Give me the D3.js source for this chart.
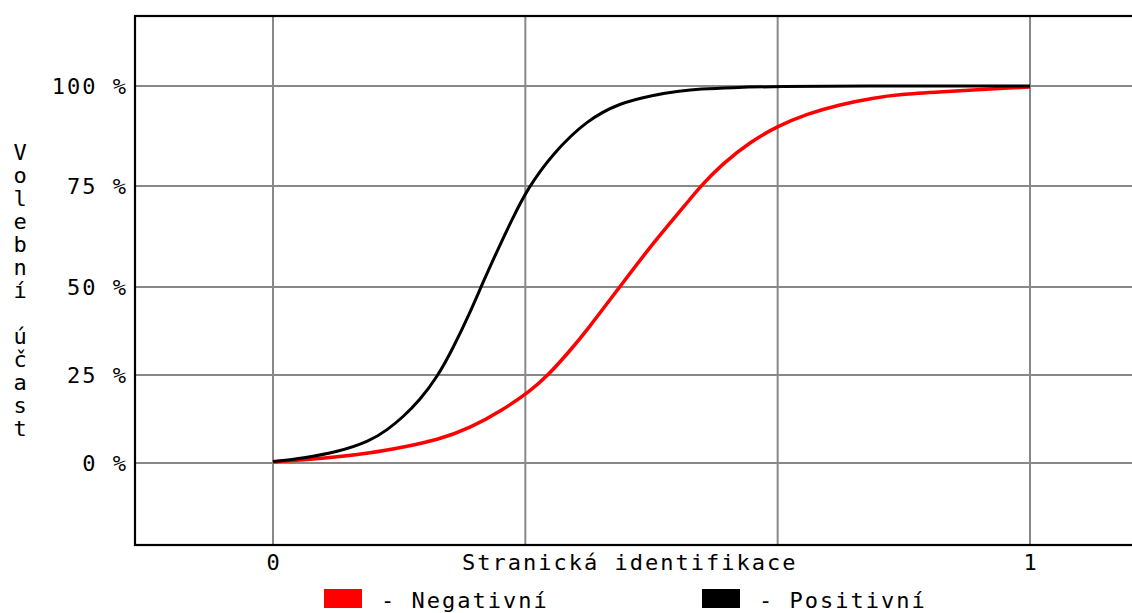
<!DOCTYPE html>
<html>
<head>
<meta charset="utf-8">
<script src="https://cdn.jsdelivr.net/npm/d3@7"></script>
<style>
  body { margin: 0; background: #fff; }
  text { font-family: "DejaVu Sans Mono", monospace; font-size: 22px; letter-spacing: 2px; fill: #000; }
</style>
</head>
<body>
<div id="chart"></div>
<script>
// data (x = party identification 0..1, y = turnout %)
var xPos = [0, 0.040, 0.085, 0.128, 0.151, 0.172, 0.194, 0.217, 0.238, 0.260, 0.277, 0.296, 0.316, 0.336, 0.370, 0.415, 0.458, 0.502, 0.538, 0.564, 0.604, 0.670, 0.762, 1];
var positivni = [0.4, 1.4, 3.1, 6.2, 9.4, 13.1, 17.9, 24.4, 32.7, 42.6, 51, 58.9, 66.8, 74.3, 83.25, 91.5, 95.75, 97.75, 98.75, 99.25, 99.6, 99.9, 100, 100];

var xNeg = [0, 0.040, 0.085, 0.128, 0.172, 0.217, 0.260, 0.304, 0.340, 0.362, 0.392, 0.415, 0.458, 0.502, 0.547, 0.564, 0.594, 0.630, 0.667, 0.705, 0.749, 0.793, 0.828, 0.881, 0.960, 1];
var negativni = [0.3, 0.9, 1.7, 2.8, 4.5, 6.5, 9.9, 15.1, 20.5, 24.6, 31.8, 37.8, 50, 60.9, 70.8, 74.8, 80.6, 86, 90, 93, 95.4, 97, 97.9, 98.5, 99.4, 99.75];

var xGrid = [0, 1/3, 2/3, 1];
var xTickLabels = [{v: 0, t: "0"}, {v: 1, t: "1"}];
var yTicks = [0, 25, 50, 75, 100];
var yTickLabels = ["0 %", "25 %", "50 %", "75 %", "100 %"];
var yTitle = "Volební účast";
var xTitle = "Stranická identifikace";
var legendItems = [{name: "Negativní", color: "#ff0000"}, {name: "Positivní", color: "#000000"}];

var W = 1132, H = 613;
var svg = d3.select("#chart").append("svg").attr("width", W).attr("height", H);

var x = d3.scaleLinear().domain([0, 1]).range([273, 1030]);
// the original axis is not evenly spaced: upper quarters are taller
var y = d3.scaleLinear().domain(yTicks).range([463, 375, 287, 186, 86]);

var plotLeft = 135, plotTop = 16, plotBottom = 545, plotRight = 1170;

// grid
svg.selectAll(".vg").data(xGrid).enter().append("line")
  .attr("x1", function(d){ return x(d); }).attr("x2", function(d){ return x(d); })
  .attr("y1", plotTop).attr("y2", plotBottom)
  .attr("stroke", "#888").attr("stroke-width", 2);

svg.selectAll(".hg").data(yTicks).enter().append("line")
  .attr("x1", plotLeft).attr("x2", plotRight)
  .attr("y1", function(d){ return y(d); }).attr("y2", function(d){ return y(d); })
  .attr("stroke", "#888").attr("stroke-width", 2);

// frame
svg.append("rect")
  .attr("x", plotLeft).attr("y", plotTop)
  .attr("width", plotRight - plotLeft).attr("height", plotBottom - plotTop)
  .attr("fill", "none").attr("stroke", "#000").attr("stroke-width", 2.2);

// curves (basis smooths out reading noise)
var line = d3.line().curve(d3.curveBasis)
  .x(function(d){ return x(d[0]); }).y(function(d){ return y(d[1]); });

svg.append("path")
  .datum(xNeg.map(function(v, i){ return [v, negativni[i]]; }))
  .attr("d", line).attr("fill", "none").attr("stroke", "#ff0000").attr("stroke-width", 3.5);

svg.append("path")
  .datum(xPos.map(function(v, i){ return [v, positivni[i]]; }))
  .attr("d", line).attr("fill", "none").attr("stroke", "#000").attr("stroke-width", 3);

// y tick labels
svg.selectAll(".yl").data(yTicks).enter().append("text")
  .attr("x", 128).attr("y", function(d){ return y(d) + 8; })
  .attr("text-anchor", "end")
  .text(function(d, i){ return yTickLabels[i]; });

// x tick labels
svg.selectAll(".xl").data(xTickLabels).enter().append("text")
  .attr("x", function(d){ return x(d.v) + 1; }).attr("y", 570)
  .attr("text-anchor", "middle")
  .text(function(d){ return d.t; });

svg.append("text").attr("x", 462).attr("y", 570).text(xTitle);

// stacked y title
var yt = svg.append("text").attr("text-anchor", "middle");
yTitle.split("").forEach(function(c, i){
  yt.append("tspan").attr("x", 21).attr("y", 160 + i * 23).text(c === " " ? "\u00a0" : c);
});

// legend
var legX = [324, 702];
legendItems.forEach(function(d, i){
  svg.append("rect").attr("x", legX[i]).attr("y", 589).attr("width", 38).attr("height", 19).attr("fill", d.color);
  svg.append("text").attr("x", legX[i] + 57).attr("y", 608).text("- " + d.name);
});
</script>
</body>
</html>
